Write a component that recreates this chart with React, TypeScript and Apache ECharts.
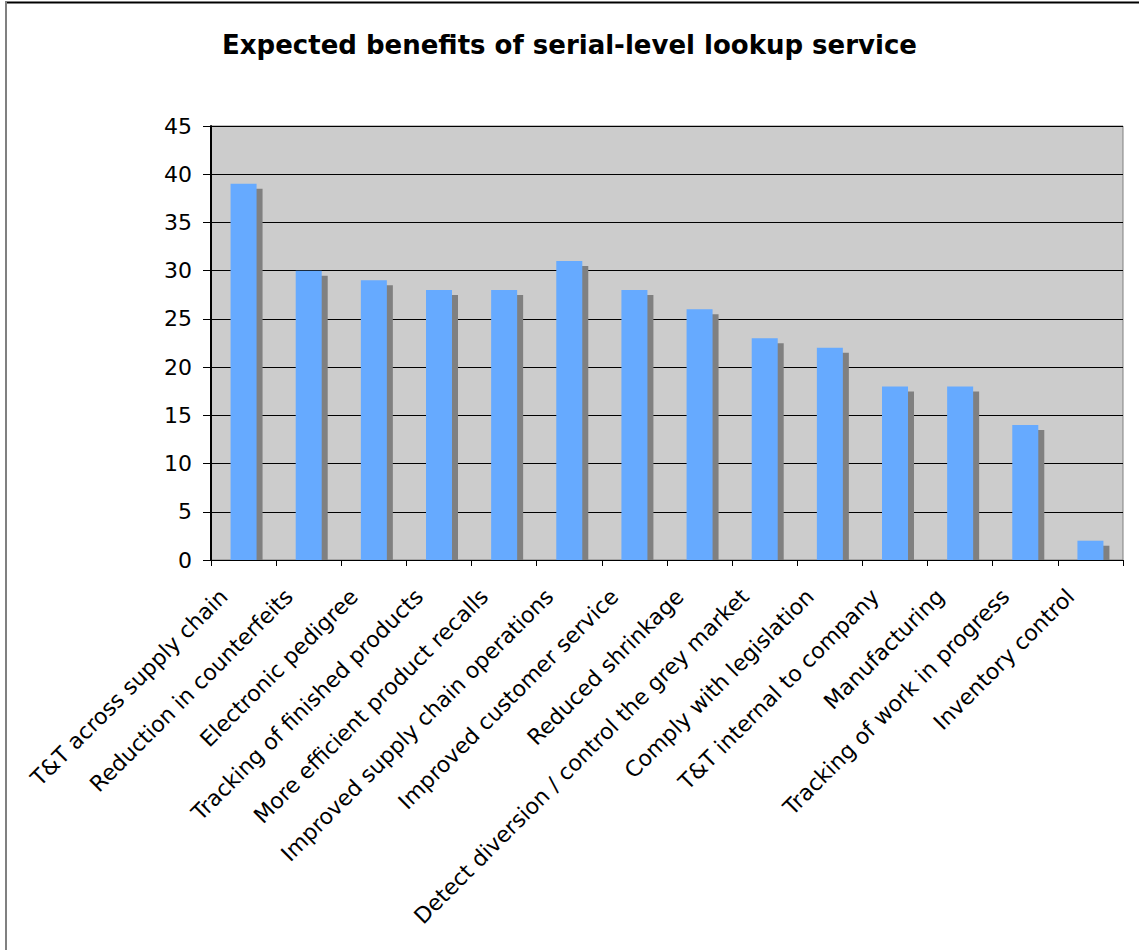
import React, { useEffect, useRef } from "react";
import * as echarts from "echarts";

const categories = [
  "T&T across supply chain",
  "Reduction in counterfeits",
  "Electronic pedigree",
  "Tracking of finished products",
  "More efficient product recalls",
  "Improved supply chain operations",
  "Improved customer service",
  "Reduced shrinkage",
  "Detect diversion / control the grey market",
  "Comply with legislation",
  "T&T internal to company",
  "Manufacturing",
  "Tracking of work in progress",
  "Inventory control",
];
const values = [39, 30, 29, 28, 28, 31, 28, 26, 23, 22, 18, 18, 14, 2];
const titleText = "Expected benefits of serial-level lookup service";

const FONT = "'DejaVu Sans', Verdana, sans-serif";

export default function App() {
  const ref = useRef<HTMLDivElement>(null);
  useEffect(() => {
    document.body.style.margin = "0";
    const chart = echarts.init(ref.current!, null, { renderer: "svg" });
    chart.setOption({
      animation: false,
      backgroundColor: "#ffffff",
      title: {
        text: titleText,
        left: "center",
        top: 27,
        textStyle: { fontFamily: FONT, fontWeight: "bold", fontSize: 26, color: "#000" },
      },
      graphic: [
        { type: "line", shape: { x1: 5, y1: 2.5, x2: 1139, y2: 2.5 }, style: { stroke: "#000", lineWidth: 2 } },
        { type: "line", shape: { x1: 6, y1: 2, x2: 6, y2: 950 }, style: { stroke: "#808080", lineWidth: 2 } },
      ],
      grid: {
        left: 211,
        top: 126,
        right: 16,
        bottom: 390,
        show: true,
        backgroundColor: "#cccccc",
        borderColor: "#808080",
        borderWidth: 1,
      },
      xAxis: {
        type: "category",
        data: categories,
        axisLine: { lineStyle: { color: "#000", width: 1 } },
        axisTick: { show: true, length: 6, lineStyle: { color: "#000" } },
        axisLabel: {
          rotate: 45,
          interval: 0,
          fontFamily: FONT,
          fontSize: 22,
          color: "#000",
          margin: 13,
          padding: [0, 28, 0, 0],
        },
      },
      yAxis: {
        type: "value",
        min: 0,
        max: 45,
        interval: 5,
        axisLine: { show: true, lineStyle: { color: "#000", width: 2 } },
        axisTick: { show: true, length: 8, lineStyle: { color: "#000" } },
        axisLabel: { fontFamily: FONT, fontSize: 22, color: "#000", margin: 19 },
        splitLine: { show: true, lineStyle: { color: "#000", width: 1 } },
      },
      series: [
        {
          type: "custom",
          data: values.map((v, i) => [i, v]),
          encode: { x: 0, y: 1 },
          renderItem: (params: any, api: any) => {
            const idx = api.value(0);
            const val = api.value(1);
            const top = api.coord([idx, val]);
            const base = api.coord([idx, 0]);
            const bw = 26;
            const x0 = top[0] - bw / 2;
            return {
              type: "group",
              children: [
                {
                  type: "rect",
                  shape: { x: x0 + 6, y: top[1] + 5, width: bw, height: base[1] - top[1] - 5 },
                  style: { fill: "#808080" },
                },
                {
                  type: "rect",
                  shape: { x: x0, y: top[1], width: bw, height: base[1] - top[1] },
                  style: { fill: "#66aaff" },
                },
              ],
            };
          },
        },
      ],
    });
    return () => chart.dispose();
  }, []);
  return <div ref={ref} style={{ position: "absolute", left: 0, top: 0, width: 1139, height: 950 }} />;
}
